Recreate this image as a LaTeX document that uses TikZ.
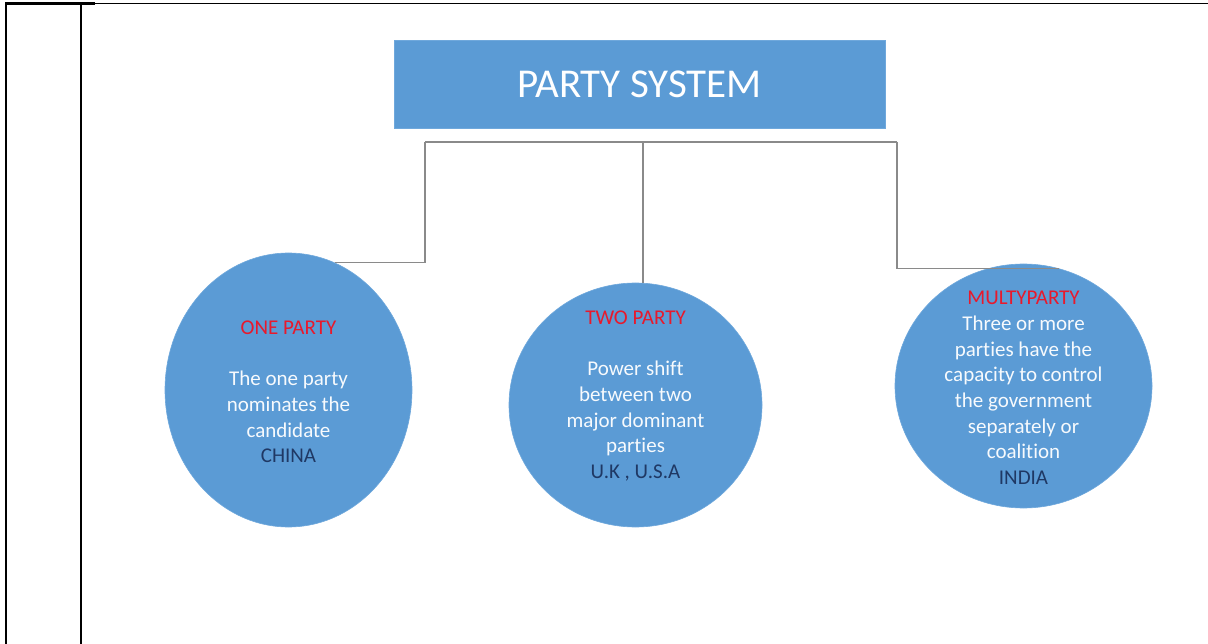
\documentclass[tikz,border=0pt]{standalone}
\usepackage{fontspec}
\setmainfont{Carlito}[Ligatures=NoCommon]
\usetikzlibrary{shapes.geometric}
\definecolor{boxblue}{HTML}{5B9BD5}
\definecolor{edgeblue}{HTML}{6FA8DC}
\definecolor{headred}{HTML}{E8192C}
\definecolor{navy}{HTML}{1F3864}
\definecolor{linkgrey}{HTML}{8A8A8A}
\tikzset{
  bubble/.style={ellipse, fill=boxblue, draw=edgeblue, line width=0.6pt, inner sep=0pt},
  bubbletext/.style={align=center, text=white!95!boxblue, font=\fontsize{21}{25.7}\selectfont},
  conn/.style={draw=linkgrey, line width=1.6pt},
  frame/.style={draw=black, line width=2.2pt},
}
\begin{document}
\begin{tikzpicture}[x=1pt, y=-1pt]
  \useasboundingbox (0,0) rectangle (1208,644);

  % table frame
  \draw[frame] (6,644) -- (6,3.5) -- (95,3.5);
  \draw[draw=black, line width=1.4pt] (95,3.5) -- (1208,3.5);
  \draw[frame] (81,3.5) -- (81,644);

  % heading
  \node[fill=boxblue, draw=edgeblue, line width=0.6pt, minimum width=491pt, minimum height=88pt,
        inner sep=0pt, text=white, font=\fontsize{41}{48}\selectfont] (title) at (639.5,84) {PARTY SYSTEM};

  % the three systems
  \node[bubble, minimum width=247pt, minimum height=274pt] (one) at (288.5,390) {};
  \node[bubble, minimum width=253pt, minimum height=244pt] (two) at (635.5,405) {};
  \node[bubble, minimum width=257pt, minimum height=244pt] (three) at (1023.5,386) {};

  \node[bubbletext] (onetxt) at (288.5,392) {\textcolor{headred}{ONE PARTY}\\[25.7pt]
    The one party\\nominates the\\candidate\\\textcolor{navy}{CHINA}};
  \node[bubbletext] (twotxt) at (635.5,396) {\textcolor{headred}{TWO PARTY}\\[25.7pt]
    Power shift\\between two\\major dominant\\parties\\\textcolor{navy}{U.K , U.S.A}};
  \node[bubbletext] (threetxt) at (1023.5,388) {\textcolor{headred}{MULTYPARTY}\\
    Three or more\\parties have the\\capacity to control\\the government\\separately or\\coalition\\\textcolor{navy}{INDIA}};

  % connectors
  \coordinate (bl) at (425,142);
  \coordinate (hub) at (643,142);
  \coordinate (br) at (897,142);
  \draw[conn] (bl) -- (br);
  \draw[conn] (bl) |- (one.70);
  \draw[conn] (hub) -- (hub |- two.north);
  \draw[conn] (br) |- (three.73);
\end{tikzpicture}
\end{document}
